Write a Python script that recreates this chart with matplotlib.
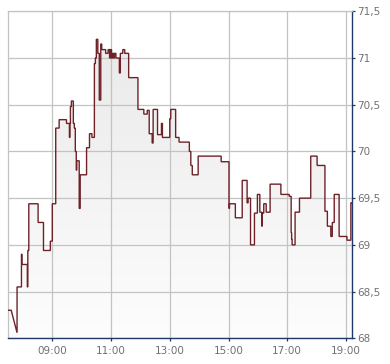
import numpy as np
import matplotlib
matplotlib.use('Agg')
import matplotlib.pyplot as plt
from matplotlib.colors import LinearSegmentedColormap

plt.rcParams['font.family'] = 'DejaVu Sans'

# Kursverlauf (Intraday), Zeit als HH:MM
start_times = ["07:30", "07:36", "07:48"]
start_prices = [68.30, 68.30, 68.06]

step_times = [
    "07:48", "07:57", "07:58", "08:09", "08:10", "08:12", "08:31", "08:42", "08:56", "09:00",
    "09:07", "09:14", "09:29", "09:35", "09:36", "09:37", "09:39", "09:43", "09:45", "09:47",
    "09:49", "09:50", "09:55", "09:57", "10:10", "10:16", "10:21", "10:26", "10:28", "10:30",
    "10:33", "10:36", "10:39", "10:41", "10:49", "10:54", "10:57", "10:59", "11:01", "11:03",
    "11:05", "11:07", "11:10", "11:17", "11:19", "11:24", "11:28", "11:36", "11:55", "12:07",
    "12:14", "12:18", "12:24", "12:26", "12:35", "12:43", "12:45", "13:00", "13:02", "13:12",
    "13:19", "13:40", "13:43", "13:46", "13:58", "14:45", "15:01", "15:02", "15:14", "15:28",
    "15:38", "15:40", "15:45", "15:53", "15:59", "16:04", "16:08", "16:09", "16:12", "16:17",
    "16:25", "16:47", "17:04", "17:08", "17:09", "17:10", "17:16", "17:25", "17:48", "18:01",
    "18:17", "18:22", "18:29", "18:32", "18:36", "18:46", "19:02", "19:10",
]
step_prices = [
    68.55, 68.90, 68.79, 68.55, 68.94, 69.44, 69.24, 68.94, 69.04, 69.44,
    70.25, 70.34, 70.30, 70.15, 70.30, 70.48, 70.54, 70.30, 70.25, 70.00,
    69.80, 69.90, 69.39, 69.75, 70.04, 70.19, 70.15, 70.94, 71.00, 71.20,
    71.05, 70.55, 71.15, 71.09, 71.05, 71.09, 71.00, 71.09, 71.00, 71.05,
    71.00, 71.05, 71.00, 70.84, 71.05, 71.09, 71.05, 70.79, 70.45, 70.40,
    70.44, 70.19, 70.09, 70.45, 70.18, 70.30, 70.15, 70.35, 70.45, 70.15,
    70.10, 70.00, 69.85, 69.75, 69.95, 69.89, 69.39, 69.44, 69.29, 69.69,
    69.45, 69.50, 69.00, 69.34, 69.54, 69.35, 69.20, 69.34, 69.44, 69.35,
    69.65, 69.54, 69.52, 69.13, 69.06, 69.00, 69.35, 69.50, 69.95, 69.85,
    69.36, 69.20, 69.09, 69.24, 69.54, 69.09, 69.05, 69.45,
]
end_time = "19:12"

x_ticks = ["09:00", "11:00", "13:00", "15:00", "17:00", "19:00"]
y_ticks = [68, 68.5, 69, 69.5, 70, 70.5, 71, 71.5]


def to_min(s):
    h, m = s.split(":")
    return int(h) * 60 + int(m)


# Treppen-Verlauf aufbauen
xs = [to_min(t) for t in start_times]
ys = list(start_prices)
st = [to_min(t) for t in step_times] + [to_min(end_time)]
for i, p in enumerate(step_prices):
    xs += [st[i], st[i + 1]]
    ys += [p, p]
xs = np.array(xs, dtype=float)
ys = np.array(ys)

x0, x1 = to_min("07:30") - 0.5, to_min(end_time) + 0.3
y0, y1 = 68, 71.5

navy = '#1f3868'
grid_c = '#c3c3c3'
text_c = '#707070'

fig = plt.figure(figsize=(3.9, 3.64), dpi=100)
ax = fig.add_axes([8 / 390, 1 - 338.3 / 364, 344 / 390, 327 / 364])

# Verlaufsfüllung unter der Kurve
poly = ax.fill_between(xs, ys, y0, facecolor='none', edgecolor='none')
cmap = LinearSegmentedColormap.from_list('g', ['#fdfdfd', '#e8e8e8'])
img = ax.imshow(np.linspace(0, 1, 256).reshape(-1, 1), extent=[x0, x1, y0, y1],
                aspect='auto', origin='lower', cmap=cmap, zorder=0.5)
img.set_clip_path(poly.get_paths()[0], transform=ax.transData)

ax.plot(xs, ys, color='#6e2228', lw=1.0, zorder=3, solid_joinstyle='miter')

ax.set_xlim(x0, x1)
ax.set_ylim(y0, y1)

ax.set_xticks([to_min(t) for t in x_ticks])
ax.set_xticklabels(x_ticks)
ax.set_yticks(y_ticks)
ax.set_yticklabels([f"{v:g}".replace(".", ",") for v in y_ticks])
ax.yaxis.tick_right()

ax.grid(True, color=grid_c, lw=0.9)
ax.tick_params(axis='both', colors=navy, labelcolor=text_c, labelsize=7.5,
               length=2.5, width=0.9, direction='out')
ax.tick_params(axis='x', pad=3)
ax.tick_params(axis='y', pad=1.5)

for side in ['left', 'top']:
    ax.spines[side].set_color(grid_c)
    ax.spines[side].set_linewidth(0.9)
for side in ['right', 'bottom']:
    ax.spines[side].set_color(navy)
    ax.spines[side].set_linewidth(1.0)

fig.savefig('out.png', dpi=100)
